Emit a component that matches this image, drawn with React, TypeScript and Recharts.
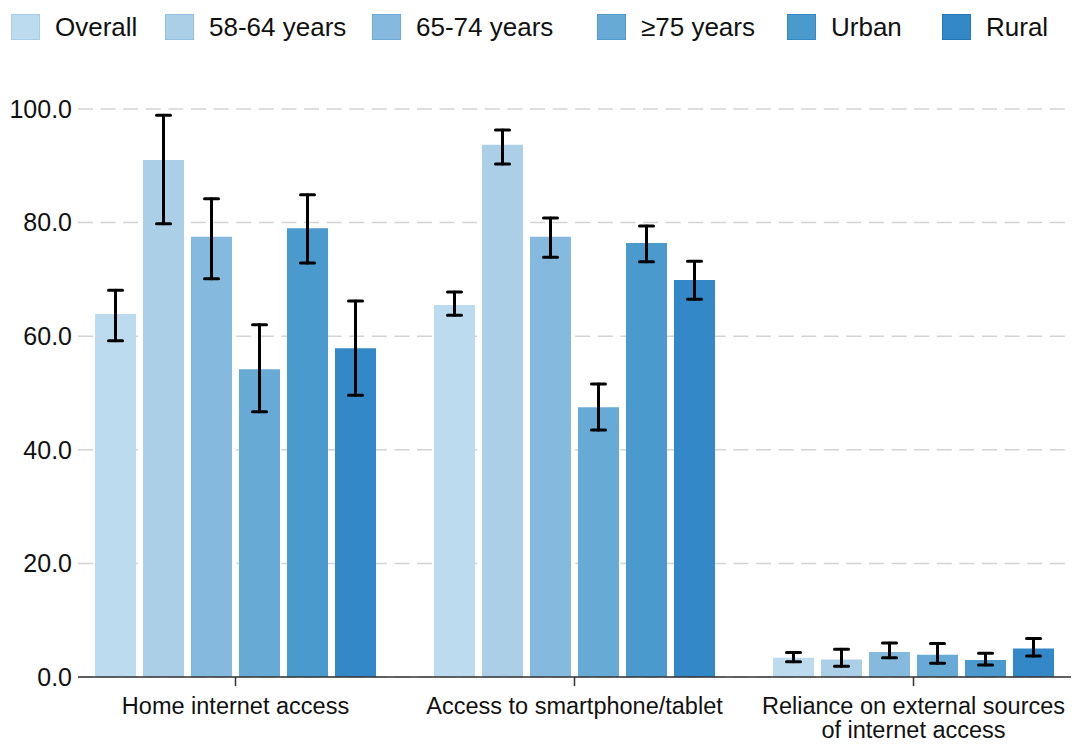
import React from 'react';
import {
  BarChart,
  Bar,
  XAxis,
  YAxis,
  CartesianGrid,
  ErrorBar,
  Legend,
} from 'recharts';

const categories = [
  'Home internet access',
  'Access to smartphone/tablet',
  'Reliance on external sources of internet access',
];

const groups = ['Overall', '58-64 years', '65-74 years', '≥75 years', 'Urban', 'Rural'];

const overall = [63.9, 65.5, 3.4];
const age5864 = [91.0, 93.7, 3.1];
const age6574 = [77.5, 77.5, 4.4];
const age75 = [54.2, 47.5, 3.9];
const urban = [79.0, 76.4, 3.0];
const rural = [57.9, 69.9, 5.0];

const overallCi = [[59.2, 68.1], [63.7, 67.8], [2.7, 4.3]];
const age5864Ci = [[79.8, 98.9], [90.3, 96.3], [1.9, 4.9]];
const age6574Ci = [[70.1, 84.2], [73.9, 80.8], [3.4, 6.0]];
const age75Ci = [[46.7, 62.0], [43.5, 51.6], [2.4, 5.9]];
const urbanCi = [[72.9, 84.9], [73.1, 79.4], [2.1, 4.2]];
const ruralCi = [[49.6, 66.2], [66.5, 73.2], [3.7, 6.8]];

const yTicks = [0, 20, 40, 60, 80, 100];

const series = [overall, age5864, age6574, age75, urban, rural];
const seriesCi = [overallCi, age5864Ci, age6574Ci, age75Ci, urbanCi, ruralCi];

const colors = ['#bddbee', '#abcfe7', '#86b9de', '#67aad5', '#4a9acd', '#3388c8'];
const borders = ['#a9cde6', '#94c0e0', '#6ea9d5', '#519bcd', '#3589c4', '#2576b8'];
const legendX = [11, 165, 372, 597, 787, 942];

const data = categories.map((name, i) => {
  const row: Record<string, any> = { name };
  groups.forEach((g, s) => {
    row['v' + s] = series[s][i];
    row['e' + s] = [series[s][i] - seriesCi[s][i][0], seriesCi[s][i][1] - series[s][i]];
  });
  return row;
});

const FONT = '"Liberation Sans", Arial, sans-serif';

// break long labels into lines of at most ~30 characters
function wrapLabel(label: string, maxChars = 30) {
  const lines: string[] = [];
  let cur = '';
  label.split(' ').forEach((w) => {
    const next = cur ? cur + ' ' + w : w;
    if (next.length > maxChars && cur) {
      lines.push(cur);
      cur = w;
    } else {
      cur = next;
    }
  });
  if (cur) lines.push(cur);
  return lines;
}

function LegendContent() {
  return (
    <div style={{ position: 'relative', height: 50, width: 1073, fontFamily: FONT }}>
      {groups.map((g, i) => (
        <div
          key={g}
          style={{
            position: 'absolute',
            left: legendX[i],
            top: 14,
            display: 'flex',
            alignItems: 'center',
            whiteSpace: 'nowrap',
          }}
        >
          <span
            style={{
              display: 'inline-block',
              width: 27,
              height: 24,
              background: colors[i],
              border: `1px solid ${borders[i]}`,
              marginRight: 15,
            }}
          />
          <span style={{ fontSize: 26, color: '#111', lineHeight: '26px' }}>{g}</span>
        </div>
      ))}
    </div>
  );
}

function CategoryTick(props: any) {
  const { x, y, payload } = props;
  const lines = wrapLabel(payload.value);
  return (
    <text x={x} y={y + 26} textAnchor="middle" fontSize={23.5} fontFamily={FONT} fill="#111">
      {lines.map((l, i) => (
        <tspan key={i} x={x} dy={i === 0 ? 0 : 24}>
          {l}
        </tspan>
      ))}
    </text>
  );
}

export default function App() {
  return (
    <div style={{ position: 'absolute', left: 0, top: 0, background: '#fff' }}>
      <BarChart
        width={1073}
        height={746}
        data={data}
        margin={{ top: 59, right: 2, bottom: 0, left: 0 }}
        barCategoryGap={29}
        barGap={7}
      >
        <CartesianGrid
          vertical={false}
          stroke="#d3d3d3"
          strokeWidth={1.5}
          strokeDasharray="15 7.6"
        />
        <Legend verticalAlign="top" align="left" content={<LegendContent />} wrapperStyle={{ top: 0, left: 0, height: 50 }} />
        <XAxis
          dataKey="name"
          padding={{ left: -12, right: -12 }}
          axisLine={{ stroke: '#333', strokeWidth: 1.5 }}
          tickLine={{ stroke: '#333', strokeWidth: 1.5 }}
          tickSize={9}
          height={69}
          interval={0}
          tick={<CategoryTick />}
        />
        <YAxis
          domain={[0, 100]}
          ticks={yTicks}
          width={78}
          axisLine={false}
          tickLine={false}
          tickSize={0}
          tickMargin={6}
          tickFormatter={(v: number) => v.toFixed(1)}
          tick={{ fontSize: 25, fill: '#111', fontFamily: FONT }}
        />
        {groups.map((g, s) => (
          <Bar key={g} dataKey={'v' + s} name={g} fill={colors[s]} isAnimationActive={false}>
            <ErrorBar
              dataKey={'e' + s}
              width={7}
              stroke="#000"
              strokeWidth={3}
              strokeLinecap="round"
              isAnimationActive={false}
            />
          </Bar>
        ))}
      </BarChart>
    </div>
  );
}
